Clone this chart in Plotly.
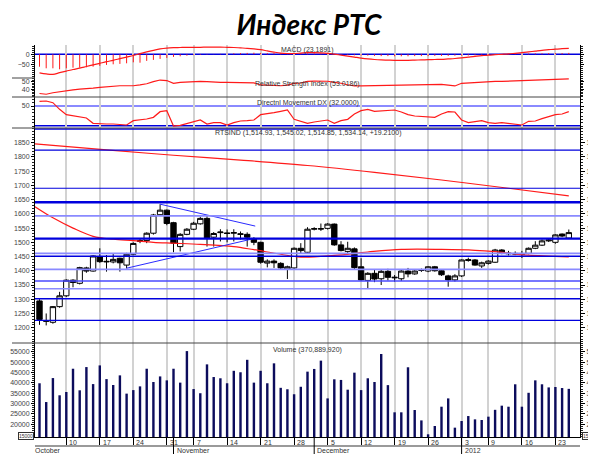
import plotly.graph_objects as go

# ---------------- data ----------------
week_pos = [4, 9, 14, 19, 23, 28, 33, 38, 43, 48, 53, 58, 63, 67, 72, 77]
week_lbl = ["10", "17", "24", "31", "7", "14", "21", "28", "5", "12", "19", "26", "3", "9", "16", "23"]
month_pos = [20, 41, 63]
month_lbl = ["November", "December", "2012"]
first_month_lbl = "October"

opens = [1294, 1222, 1219, 1274, 1312, 1367, 1356, 1410, 1399, 1449,
         1431, 1431, 1444, 1420, 1458, 1503, 1506, 1532, 1597, 1613,
         1569, 1485, 1528, 1546, 1565, 1584, 1518, 1534, 1533, 1532,
         1530, 1528, 1512, 1500, 1427, 1434, 1426, 1406, 1410, 1479,
         1465, 1546, 1548, 1549, 1564, 1491, 1468, 1477, 1414, 1366,
         1391, 1372, 1398, 1375, 1372, 1399, 1389, 1401, 1399, 1414,
         1400, 1382, 1368, 1382, 1436, 1438, 1417, 1426, 1430, 1473,
         1462, 1461, 1460, 1461, 1479, 1490, 1505, 1500, 1529, 1514.93]
highs = [1300, 1250, 1276, 1326, 1370, 1370, 1414, 1414, 1454, 1479,
         1455, 1461, 1446, 1463, 1500, 1515, 1535, 1600, 1634, 1615,
         1572, 1532, 1550, 1572, 1590, 1596, 1536, 1546, 1545, 1546,
         1538, 1535, 1518, 1502, 1440, 1440, 1430, 1418, 1482, 1497,
         1553, 1553, 1566, 1567, 1566, 1504, 1502, 1482, 1444, 1395,
         1403, 1405, 1407, 1385, 1405, 1410, 1402, 1408, 1416, 1417,
         1402, 1386, 1388, 1440, 1446, 1441, 1432, 1437, 1477, 1476,
         1470, 1468, 1470, 1482, 1504, 1510, 1512, 1528, 1531, 1545.02]
lows = [1210, 1208, 1214, 1270, 1308, 1342, 1352, 1393, 1397, 1428,
        1397, 1426, 1397, 1408, 1455, 1497, 1497, 1527, 1594, 1560,
        1465, 1468, 1525, 1543, 1562, 1485, 1485, 1503, 1500, 1503,
        1510, 1485, 1490, 1425, 1412, 1410, 1405, 1371, 1405, 1462,
        1460, 1542, 1540, 1545, 1488, 1468, 1460, 1405, 1365, 1338,
        1360, 1350, 1366, 1361, 1364, 1377, 1386, 1396, 1395, 1397,
        1382, 1344, 1362, 1378, 1432, 1418, 1410, 1422, 1428, 1458,
        1454, 1455, 1445, 1458, 1476, 1487, 1501, 1495, 1518, 1514.85]
closes = [1229, 1225, 1274, 1312, 1367, 1359, 1411, 1399, 1452, 1432,
          1433, 1440, 1428, 1458, 1496, 1506, 1532, 1596, 1613, 1566,
          1497, 1528, 1546, 1567, 1584, 1514, 1531, 1536, 1531, 1534,
          1528, 1518, 1500, 1430, 1434, 1428, 1410, 1414, 1479, 1471,
          1546, 1548, 1547, 1564, 1491, 1471, 1479, 1411, 1368, 1391,
          1371, 1398, 1377, 1377, 1399, 1389, 1399, 1403, 1414, 1400,
          1386, 1368, 1382, 1438, 1439, 1420, 1428, 1434, 1473, 1462,
          1460, 1459, 1458, 1479, 1490, 1505, 1508, 1526, 1522, 1534.14]

volume = [39800, 30750, 42300, 34000, 35600, 46800, 36400, 47600, 39400, 48400,
          41800, 38950, 43600, 34800, 36500, 38300, 46800, 40400, 43100, 41200,
          46800, 40100, 55300, 37000, 35000, 48900, 42800, 42200, 39800, 45800,
          45100, 51100, 40100, 45800, 39800, 49400, 37600, 36900, 34500, 38100,
          45400, 46700, 50700, 32500, 41700, 41400, 36700, 44900, 36500, 42200,
          40400, 53900, 38900, 25800, 25800, 47500, 26900, 21900, 15200, 19200,
          28500, 32500, 18400, 21600, 24000, 22400, 22100, 23700, 27000, 29000,
          28500, 39300, 28500, 35200, 41200, 39300, 37800, 38000, 37500, 37100]

macd = [-93, -98, -100, -92, -84, -76, -69, -61, -53, -45,
        -37, -30, -22, -14, -6, 3, 12, 20, 27, 31,
        33, 34, 35, 35, 35, 36, 36, 36, 35, 34,
        32, 30, 27, 23, 17, 11, 6, 4, 4, 6,
        8, 8, 7, 5, 1, -4, -9, -14, -19, -23,
        -26, -28, -29, -30, -30, -30, -29, -28, -27, -26,
        -25, -23, -21, -18, -14, -10, -7, -4, -2, 0,
        2, 5, 8, 12, 16, 20, 23, 26, 28, 30]
macd_hist = [-62, -70, -70, -75, -70, -67, -67, -65, -62, -58,
             -53, -50, -48, -45, -40, -42, -33, -28, -23, -18,
             -13, -10, -7, -4, -3, -2, -1, 2, 3, 5,
             6, 7, 8, 7, 6, 6, 5, 5, 4, 4,
             4, 5, 4, 3, 1, -1, -3, -5, -6, -7,
             -8, -9, -9, -10, -10, -10, -9, -9, -9, -8,
             -8, -8, -7, -7, -6, -5, -4, -3, -2, -1,
             1, 2, 3, 4, 5, 5, 6, 6, 6, 7]
rsi = [34.5, 33.5, 35.5, 37, 38.2, 39.2, 40.2, 40.6, 41.6, 42.6,
       43.6, 44.6, 44.7, 44.7, 44.7, 45.8, 47.3, 50, 52.2, 51.5,
       47.9, 49, 49.6, 50, 50.5, 50.2, 49.3, 49.2, 49.2, 49.2,
       49.2, 49.2, 48.5, 45.7, 45.5, 45.3, 44.7, 45.5, 47.9, 48.3,
       50.5, 50.8, 50.8, 50.6, 49, 48, 46, 44.5, 44.4, 44.6,
       44.8, 45, 45, 45, 45.2, 45.4, 45.6, 45.8, 46, 46.3,
       46.5, 45.5, 44.4, 47.9, 48.5, 49, 49.5, 50.5, 50.5, 50.5,
       50.8, 51, 51.2, 51.6, 52, 52.4, 52.6, 53, 53.5, 53.6]
dx = [57, 57.5, 55, 45, 37, 35, 33.5, 32, 24, 23,
      23, 23, 22.5, 21.5, 28, 29, 30.5, 33, 41.5, 43,
      20, 21, 24, 26, 29, 23, 25, 25, 21.5, 25,
      27.5, 28, 29, 37, 38, 40, 42, 44, 30, 27,
      24, 26, 28, 29, 24, 28, 30, 38, 43, 45,
      42, 42.5, 43, 44, 41, 37, 35, 34, 33, 33,
      38, 41.5, 41, 29, 25, 27, 28, 25, 24, 25,
      24, 23, 21.5, 27, 27.5, 31, 34, 37, 38, 41.5]

# moving averages read at a few days (first point sits on the left edge of the plot)
ma_long_day = [-0.67, 10, 20, 30, 40, 50, 60, 70, 79]
ma_long_val = [1846, 1825, 1806, 1789, 1770, 1746, 1719, 1690, 1663]
ma_short_day = [-0.67, 2, 5, 8, 11, 14, 17, 20, 24, 29, 32, 36, 39, 44, 49, 54, 60, 65, 68, 71, 73, 79]
ma_short_val = [1625, 1586, 1550, 1521, 1511, 1506, 1500, 1497, 1493, 1485, 1474, 1458, 1448,
                1454, 1466, 1475, 1475, 1472, 1467, 1459, 1455, 1449]

levels = [1898, 1824, 1690, 1641, 1593, 1513, 1461, 1451, 1405, 1364, 1337, 1302, 1226]
trend_up_day = [18, 32.2]
trend_up_val = [1634, 1557]
trend_lo_day = [13, 31.8]
trend_lo_val = [1409, 1512]
dx_levels = [50, 20.5]

price_ticks = list(range(1200, 1851, 50))
vol_ticks = list(range(20000, 55001, 5000))
rsi_ticks = [40, 50]
dx_ticks = [50]
macd_ticks = [-50, 0]

panel_titles = ["MACD (23.1891)", "Relative Strength Index (53.0186)",
                "Directnl Movement DX (32.0000)",
                "RTSIND (1,514.93, 1,545.02, 1,514.85, 1,534.14, +19.2100)",
                "Volume (370,889,920)"]
title_text = "Индекс РТС"

days = list(range(len(closes)))

# ---------------- geometry / style ----------------
# the page body has an 8px margin, so the figure is 8px smaller and every
# reference pixel position is measured relative to an (8, 8) offset
OFF = 8
W, H = 596 - OFF, 460 - OFF
L, R, T, B = 35 - OFF, 16, 45 - OFF, 23
PW, PH = W - L - R, H - T - B


def py(y):  # reference pixel y -> paper fraction
    return (437 - y) / PH


def pxx(x):  # reference pixel x -> paper fraction
    return (x - 35) / PW


dom_vol = [0, py(343)]
dom_price = [py(343), py(128)]
dom_dx = [py(128), py(97)]
dom_rsi = [py(97), py(78)]
dom_macd = [py(78), 1]
XR = [-0.672, 80.672]

FONT = "Liberation Sans, Arial, sans-serif"
TICKF = dict(family=FONT, size=7, color="#444")
GRID = "#d2d2d2"
RED = "#ff1a1a"

fig = go.Figure()

fig.add_trace(go.Bar(x=days, y=volume, width=0.36, marker=dict(color="#0c0c5c", line_width=0),
                     xaxis="x", yaxis="y", hoverinfo="skip", showlegend=False))
fig.add_trace(go.Scatter(x=days, y=volume, mode="lines", line=dict(width=0), opacity=0,
                         xaxis="x", yaxis="y7", hoverinfo="skip", showlegend=False))

fig.add_trace(go.Candlestick(x=days, open=opens, high=highs, low=lows, close=closes,
                             xaxis="x2", yaxis="y2", whiskerwidth=0,
                             increasing=dict(line=dict(color="black", width=1), fillcolor="white"),
                             decreasing=dict(line=dict(color="black", width=1), fillcolor="black"),
                             showlegend=False, hoverinfo="skip"))
fig.add_trace(go.Scatter(x=ma_long_day, y=ma_long_val, mode="lines", line=dict(color=RED, width=1.2, shape="spline"),
                         xaxis="x2", yaxis="y2", hoverinfo="skip", showlegend=False))
fig.add_trace(go.Scatter(x=ma_short_day, y=ma_short_val, mode="lines", line=dict(color=RED, width=1.2, shape="spline"),
                         xaxis="x2", yaxis="y2", hoverinfo="skip", showlegend=False))
fig.add_trace(go.Scatter(x=trend_up_day, y=trend_up_val, mode="lines", line=dict(color="#2a2aff", width=1),
                         xaxis="x2", yaxis="y2", hoverinfo="skip", showlegend=False))
fig.add_trace(go.Scatter(x=trend_lo_day, y=trend_lo_val, mode="lines", line=dict(color="#2a2aff", width=1),
                         xaxis="x2", yaxis="y2", hoverinfo="skip", showlegend=False))
fig.add_trace(go.Scatter(x=days, y=closes, mode="lines", line=dict(width=0), opacity=0,
                         xaxis="x2", yaxis="y6", hoverinfo="skip", showlegend=False))

fig.add_trace(go.Scatter(x=days, y=dx, mode="lines", line=dict(color=RED, width=1.2),
                         xaxis="x3", yaxis="y3", hoverinfo="skip", showlegend=False))
fig.add_trace(go.Scatter(x=days, y=rsi, mode="lines", line=dict(color=RED, width=1.2),
                         xaxis="x4", yaxis="y4", hoverinfo="skip", showlegend=False))
# MACD histogram as thin stems from zero
hx, hy = [], []
for d, h in zip(days, macd_hist):
    hx += [d, d, None]
    hy += [0, h, None]
fig.add_trace(go.Scatter(x=hx, y=hy, mode="lines", line=dict(color=RED, width=1),
                         xaxis="x5", yaxis="y5", hoverinfo="skip", showlegend=False))
fig.add_trace(go.Scatter(x=days, y=macd, mode="lines", line=dict(color=RED, width=1.2, shape="spline"),
                         xaxis="x5", yaxis="y5", hoverinfo="skip", showlegend=False))


def xax(anchor, **kw):
    d = dict(domain=[0, 1], range=XR, anchor=anchor, tickmode="array", tickvals=week_pos,
             showgrid=True, gridcolor=GRID, gridwidth=1.5, zeroline=False, automargin=False,
             showticklabels=False, ticks="", showline=False, fixedrange=True)
    d.update(kw)
    return d


def yax(domain, rng, tickvals, dminor, **kw):
    d = dict(domain=domain, range=rng, tickmode="array", tickvals=tickvals, tickformat="d",
             showgrid=False, zeroline=False, showline=True, linecolor="black", linewidth=1,
             ticks="outside", ticklen=3, tickcolor="black", tickwidth=1, tickfont=TICKF,
             automargin=False,
             minor=dict(ticks="outside", ticklen=2, tickmode="linear", tick0=0, dtick=dminor,
                        tickcolor="#222", showgrid=False),
             fixedrange=True)
    d.update(kw)
    return d


vol_range = [13900, 59200]
price_range = [1146.2, 1901.7]

fig.update_layout(
    width=W, height=H, margin=dict(l=L, r=R, t=T, b=B, autoexpand=False),
    paper_bgcolor="white", plot_bgcolor="white",
    boxgap=0.2, boxgroupgap=0,
    title=dict(text="<b><i>" + title_text + "</i></b>", x=(309 - OFF) / W, xanchor="center",
               y=1 - (25 - OFF) / H, yanchor="middle", xref="container", yref="container",
               automargin=False,
               font=dict(family="Lato, Open Sans, sans-serif", size=28, color="black")),
    xaxis=xax("y", ticks="outside", ticklen=8, tickcolor="black", showline=True, linecolor="black"),
    xaxis2=xax("y2", rangeslider=dict(visible=False)),
    xaxis3=xax("y3"),
    xaxis4=xax("y4"),
    xaxis5=xax("y5"),
    yaxis=yax(dom_vol, vol_range, vol_ticks, 1000, anchor="x"),
    yaxis7=yax(dom_vol, vol_range, vol_ticks, 1000, anchor="x", overlaying="y", side="right", ticklen=4),
    yaxis2=yax(dom_price, price_range, price_ticks, 10, anchor="x2"),
    yaxis6=yax(dom_price, price_range, price_ticks, 10, anchor="x2", overlaying="y2", side="right", ticklen=4),
    yaxis3=yax(dom_dx, [17, 63.5], dx_ticks, 5, anchor="x3", mirror="ticks"),
    yaxis4=yax(dom_rsi, [29.87, 54.87], rsi_ticks, 2, anchor="x4", mirror="ticks"),
    yaxis5=yax(dom_macd, [-118.5, 46.5], macd_ticks, 10, anchor="x5", mirror="ticks"),
    showlegend=False,
)

shapes = []
dark_blue = "#0000dd"
light_blue = "#8a8aff"
level_color = [dark_blue, dark_blue, dark_blue, dark_blue, light_blue, dark_blue, light_blue,
               dark_blue, light_blue, "#4a4aff", light_blue, dark_blue, dark_blue]
level_width = [1.6, 1.2, 1.2, 2.4, 1.6, 2.4, 1.6, 1.3, 1.6, 1.5, 1.6, 1.5, 1.3]
for v, c, w in zip(levels, level_color, level_width):
    shapes.append(dict(type="line", xref="x2 domain", x0=0, x1=1, yref="y2", y0=v, y1=v,
                       line=dict(color=c, width=w), layer="above"))
for v, c, w in zip(dx_levels, [light_blue, dark_blue], [2, 1.5]):
    shapes.append(dict(type="line", xref="x3 domain", x0=0, x1=1, yref="y3", y0=v, y1=v,
                       line=dict(color=c, width=w), layer="below"))
shapes.append(dict(type="line", xref="x5 domain", x0=0, x1=1, yref="y5", y0=0, y1=0,
                   line=dict(color=dark_blue, width=1.5), layer="below"))
# panel separators
for ysep, xl, xr in [(97, 12, 580), (128, 12, 580), (343, 12, 580), (78, 12, 35)]:
    shapes.append(dict(type="line", xref="paper", yref="paper", x0=pxx(xl), x1=pxx(xr),
                       y0=py(ysep), y1=py(ysep), line=dict(color="#444", width=1)))
# date band line and month ticks
shapes.append(dict(type="line", xref="paper", yref="paper", x0=0, x1=1, y0=py(446), y1=py(446),
                   line=dict(color="#9a9a9a", width=2)))
for m in month_pos:
    shapes.append(dict(type="line", xref="x", yref="paper", x0=m, x1=m, y0=0, y1=py(454),
                       line=dict(color="black", width=1)))

annotations = []
for txt, ypix in zip(panel_titles, [50, 84, 103, 133, 350]):
    annotations.append(dict(text=txt, xref="paper", yref="paper", x=0.5, y=py(ypix),
                            xanchor="center", yanchor="middle", showarrow=False,
                            font=dict(family=FONT, size=7, color="#333")))
for p, t in zip(week_pos, week_lbl):
    annotations.append(dict(text=t, xref="x", yref="paper", x=p, y=py(442), xanchor="left",
                            yanchor="middle", xshift=1, showarrow=False,
                            font=dict(family=FONT, size=7, color="#333")))
for p, t in zip(month_pos, month_lbl):
    annotations.append(dict(text=t, xref="x", yref="paper", x=p, y=py(450), xanchor="left",
                            yanchor="middle", xshift=1, showarrow=False,
                            font=dict(family=FONT, size=7, color="#333")))
annotations.append(dict(text=first_month_lbl, xref="paper", yref="paper", x=pxx(33), y=py(450),
                        xanchor="left", yanchor="middle", showarrow=False,
                        font=dict(family=FONT, size=7, color="#333")))
for xpos, anc in [(pxx(33.5), "right"), (pxx(581.5), "left")]:
    annotations.append(dict(text="15000", xref="paper", yref="paper", x=xpos, y=py(435.5),
                            xanchor=anc, yanchor="middle", showarrow=False, bgcolor="white",
                            bordercolor="#333", borderwidth=1, borderpad=0,
                            font=dict(family=FONT, size=5, color="#333")))

fig.update_layout(shapes=shapes, annotations=annotations)
fig.write_html("out.html")
